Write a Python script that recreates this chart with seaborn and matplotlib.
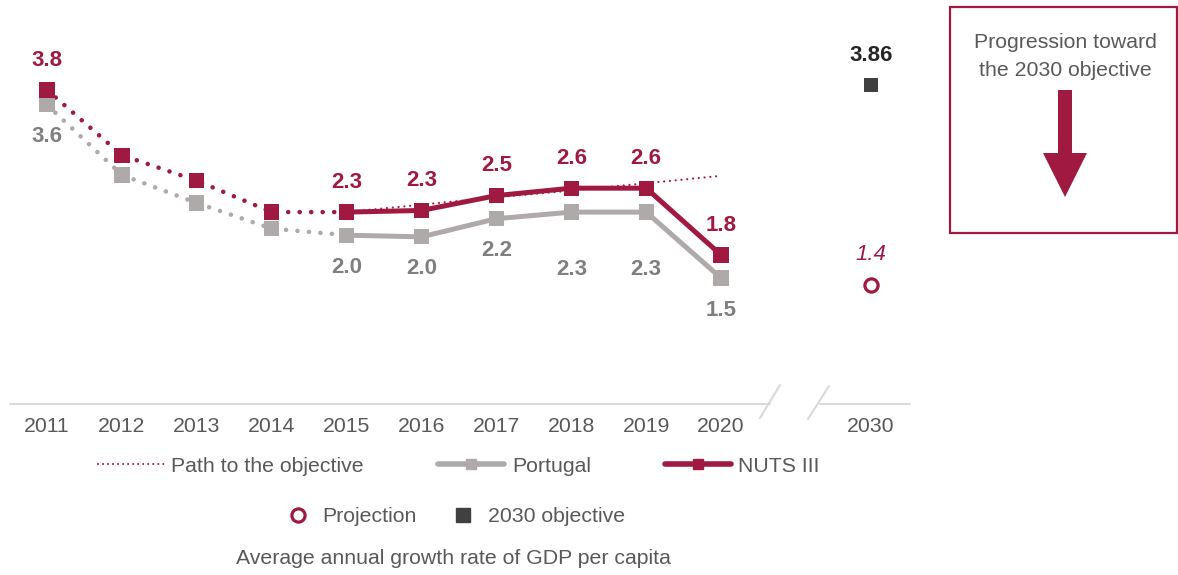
import matplotlib
matplotlib.use("Agg")
import matplotlib.pyplot as plt
from matplotlib.lines import Line2D
from matplotlib.patches import Rectangle, FancyArrow
import seaborn as sns

# ---------------- data ----------------
years = ["2011", "2012", "2013", "2014", "2015", "2016", "2017", "2018", "2019", "2020"]
nuts3 = [3.80, 3.01, 2.70, 2.32, 2.32, 2.34, 2.52, 2.61, 2.61, 1.80]
portugal = [3.62, 2.77, 2.43, 2.12, 2.04, 2.02, 2.24, 2.32, 2.32, 1.52]
path_years = ["2015", "2016", "2017", "2018", "2019", "2020"]
path_values = [2.32, 2.41, 2.50, 2.58, 2.67, 2.76]
target_year = "2030"
objective_2030 = 3.86
projection_2030 = 1.44
labelled_years = ["2011", "2015", "2016", "2017", "2018", "2019", "2020"]

# ---------------- style ----------------
RED = "#A01941"
GRAY = "#AEAAAA"
GRAY_TXT = "#7F7F7F"
DARK = "#404040"
TXT = "#595959"
AXLINE = "#D9D9D9"

sns.set_style("white")
plt.rcParams["font.family"] = ["Liberation Sans", "DejaVu Sans"]

W, H = 1178, 575
fig = plt.figure(figsize=(W / 100, H / 100), dpi=100)
ax = fig.add_axes([10 / W, 1 - 403.5 / H, 900 / W, 403.5 / H])

pos = {y: i for i, y in enumerate(years)}
pos[target_year] = len(years) + 1
x_all = [pos[y] for y in years]
x_path = [pos[y] for y in path_years]
split = pos["2015"]

dot_thick = (0, (0.01, 2.5))
dot_thin = (0, (0.01, 2.6))

# Portugal: dotted up to 2015, solid afterwards
sns.lineplot(x=x_all[:split + 1], y=portugal[:split + 1], ax=ax, color=GRAY, lw=3.3,
             linestyle=dot_thick, dash_capstyle="round", zorder=2)
sns.lineplot(x=x_all[split:], y=portugal[split:], ax=ax, color=GRAY, lw=3.6, zorder=2)
# NUTS III
sns.lineplot(x=x_all[:split + 1], y=nuts3[:split + 1], ax=ax, color=RED, lw=3.3,
             linestyle=dot_thick, dash_capstyle="round", zorder=3)
sns.lineplot(x=x_all[split:], y=nuts3[split:], ax=ax, color=RED, lw=3.6, zorder=3)
# Path to objective
sns.lineplot(x=x_path, y=path_values, ax=ax, color=RED, lw=1.6,
             linestyle=dot_thin, dash_capstyle="round", zorder=3.5)

sns.scatterplot(x=x_all, y=portugal, ax=ax, marker="s", s=11 ** 2, color=GRAY,
                edgecolor="none", zorder=4)
sns.scatterplot(x=x_all, y=nuts3, ax=ax, marker="s", s=11 ** 2, color=RED,
                edgecolor="none", zorder=5)

# 2030 points
sns.scatterplot(x=[pos[target_year]], y=[objective_2030], ax=ax, marker="s", s=10 ** 2,
                color=DARK, edgecolor="none", zorder=5)
ax.plot([pos[target_year]], [projection_2030], marker="o", ms=9.5, mfc="white",
        mec=RED, mew=2.3, ls="none", zorder=5)

# data labels
LBL = 16
for y in labelled_years:
    i = pos[y]
    ax.annotate(f"{nuts3[i]:.1f}", (i, nuts3[i]), xytext=(0, 21.5), textcoords="offset points",
                ha="center", va="center", fontsize=LBL, fontweight="bold", color=RED)
    off = -41.5 if y in ("2018", "2019") else -23
    ax.annotate(f"{portugal[i]:.1f}", (i, portugal[i]), xytext=(0, off), textcoords="offset points",
                ha="center", va="center", fontsize=LBL, fontweight="bold", color=GRAY_TXT)
ax.annotate(f"{objective_2030:.2f}", (pos[target_year], objective_2030), xytext=(0, 21),
            textcoords="offset points", ha="center", va="center", fontsize=LBL,
            fontweight="bold", color="#262626")
ax.annotate(f"{projection_2030:.1f}", (pos[target_year], projection_2030), xytext=(0, 22),
            textcoords="offset points", ha="center", va="center", fontsize=LBL,
            fontstyle="italic", color=RED)

# axes
FS = 15.3
ax.set_xlim((10 - 47) / 74.9, (910 - 47) / 74.9)
ax.set_ylim(0, 403.5 / 82.5)
for s in ax.spines.values():
    s.set_visible(False)
ax.set_yticks([])
ax.set_xticks(x_all + [pos[target_year]])
ax.set_xticklabels(years + [target_year], fontsize=FS, color=TXT)
ax.tick_params(axis="x", length=0, pad=10)
ax.set_xlabel("")
ax.set_ylabel("")

# broken baseline
def px2d(px, py):
    return (px - 47) / 74.9, (403.5 - py) / 82.5

for (a, b) in [((10, 403.5), (770, 403.5)), ((820, 403.5), (910, 403.5)),
               ((760, 418), (780, 385)), ((808, 419), (829, 386))]:
    p1, p2 = px2d(*a), px2d(*b)
    ax.plot([p1[0], p2[0]], [p1[1], p2[1]], color=AXLINE, lw=1.5, clip_on=False, zorder=1)

# overlay for box / arrow
ov = fig.add_axes([0, 0, 1, 1], facecolor="none")
ov.set_xlim(0, W)
ov.set_ylim(H, 0)
ov.axis("off")
ov.add_patch(Rectangle((950, 7), 227, 226, fill=False, ec=RED, lw=1.6))
ov.text(1065, 43, "Progression toward", ha="center", va="center", fontsize=15.3, color=TXT)
ov.text(1065, 70, "the 2030 objective", ha="center", va="center", fontsize=15.3, color=TXT)
ov.add_patch(FancyArrow(1065, 90, 0, 107, width=14, head_width=44, head_length=44,
                        length_includes_head=True, color=RED, lw=0))

# legends
h1 = [Line2D([], [], color=RED, lw=1.5, ls=(0, (0.01, 2.4)), dash_capstyle="round"),
      Line2D([], [], color=GRAY, lw=4, marker="s", ms=7),
      Line2D([], [], color=RED, lw=4, marker="s", ms=7)]
fig.legend(h1, ["Path to the objective", "Portugal", "NUTS III"], loc="center",
           bbox_to_anchor=(459 / W, 1 - 466 / H), ncol=3, frameon=False,
           fontsize=FS, handlelength=3.1, handletextpad=0.35, columnspacing=3.5,
           labelcolor=TXT, borderpad=0, borderaxespad=0)
h2 = [Line2D([], [], ls="none", marker="o", ms=9.5, mfc="white", mec=RED, mew=2.3),
      Line2D([], [], ls="none", marker="s", ms=9.5, color=DARK)]
fig.legend(h2, ["Projection", "2030 objective"], loc="center",
           bbox_to_anchor=(456 / W, 1 - 517 / H), ncol=2, frameon=False,
           fontsize=FS, handlelength=1.0, handletextpad=0.65, columnspacing=1.7,
           labelcolor=TXT, borderpad=0, borderaxespad=0)
fig.text(453 / W, 1 - 558 / H, "Average annual growth rate of GDP per capita",
         ha="center", va="center", fontsize=FS, color=TXT)

fig.savefig("out.png", dpi=100)
